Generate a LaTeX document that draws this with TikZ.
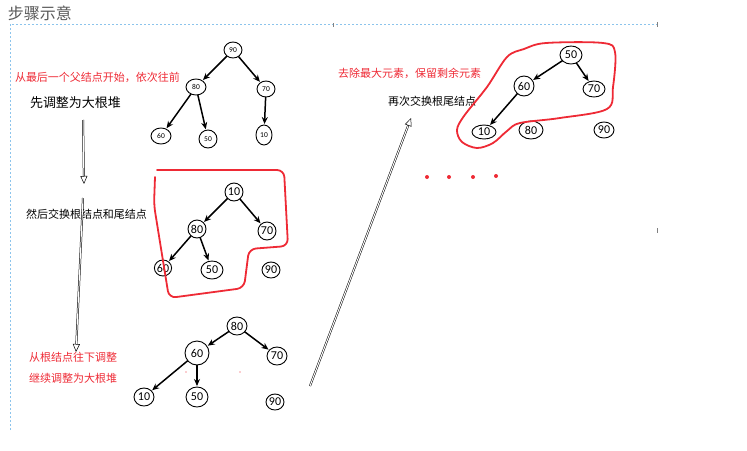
\documentclass[tikz,border=0pt]{standalone}
\usepackage{fontspec}
\setmainfont{Carlito}
\newfontfamily\cjk{Noto Sans CJK SC}
\usetikzlibrary{shapes.geometric,arrows.meta}
\definecolor{markred}{HTML}{EE2A35}
\definecolor{guideblue}{HTML}{8CC4EC}
\definecolor{titlegray}{HTML}{595959}
\begin{document}
\begin{tikzpicture}[y=1pt, x=1pt, yscale=-1, inner sep=0pt, outer sep=0pt,
  key/.style={ellipse, draw=black, line width=0.9pt, minimum width=20pt, minimum height=18pt, font=\fontsize{12}{12}\selectfont},
  smallkey/.style={key, minimum width=18pt, minimum height=16pt, font=\fontsize{7.5}{7.5}\selectfont},
  edge/.style={draw=black, line width=1.5pt, -{Stealth[length=7pt,width=6pt]}, shorten >=1pt},
  note/.style={anchor=west, font=\cjk\fontsize{11}{11}\selectfont},
  hint/.style={note, text=markred},
  outline/.style={draw=markred, line width=1.8pt, line join=round, line cap=round},
  flow/.style={draw=black, double, double distance=1pt, line width=0.5pt, -{Triangle[open, length=8pt, width=7pt]}},
  guide/.style={draw=guideblue, line width=0.6pt, dash pattern=on 2pt off 2pt}]
\useasboundingbox (0,0) rectangle (747,450);
% frame
\draw[guide] (10,430) -- (10,24) -- (657,24);
\draw[gray, line width=0.6pt] (657,22) -- (657,27) (657,228) -- (657,233) (333,23) -- (333,27);
\node[anchor=west, text=titlegray, font=\cjk\fontsize{16}{16}\selectfont] (title) at (8,13) {步骤示意};
% texts
\node[hint] (t1) at (15,77) {从最后一个父结点开始，依次往前};
\node[note, font=\cjk\fontsize{13}{13}\selectfont] (t2) at (30,103) {先调整为大根堆};
\node[note] (t3) at (26,214) {然后交换根结点和尾结点};
\node[hint] (t4) at (29,357) {从根结点往下调整};
\node[hint] (t5) at (29,378) {继续调整为大根堆};
\node[hint] (t6) at (338,73) {去除最大元素，保留剩余元素};
\node[note] (t7) at (388,101) {再次交换根尾结点};
% step 1
\node[smallkey] (a90) at (233,50) {90};
\node[smallkey, minimum width=20pt] (a80) at (196,87) {80};
\node[smallkey] (a70) at (266,89) {70};
\node[smallkey, minimum width=20pt] (a60) at (161,136) {60};
\node[smallkey, minimum height=18pt] (a50) at (208,139) {50};
\node[smallkey, minimum width=16pt, minimum height=20pt] (a10) at (264,135) {10};
\draw[edge] (a90) -- (a80);
\draw[edge] (a90) -- (a70);
\draw[edge] (a80) -- (a60);
\draw[edge] (a80) -- (a50);
\draw[edge] (a70) -- (a10);
% step 2
\node[key, minimum width=18pt] (b10) at (234,192) {10};
\node[key, minimum width=18pt] (b80) at (197,229) {80};
\node[key, minimum width=18pt] (b70) at (267,231) {70};
\node[key, minimum width=16pt, minimum height=16pt] (b60) at (163,268) {60};
\node[key, minimum width=22pt] (b50) at (212,270) {50};
\node[key, minimum width=18pt, minimum height=16pt] (b90) at (271,270) {90};
\draw[edge] (b10) -- (b80);
\draw[edge] (b10) -- (b70);
\draw[edge] (b80) -- (b60);
\draw[edge] (b80) -- (b50);
\draw[outline, rounded corners=7pt] (157,170) -- (284,170) -- (288,246) -- (249,249) -- (244,288) -- (169,298) -- (154,205) -- (155,177);
% step 3
\node[key] (c80) at (237,326) {80};
\node[key, minimum width=24pt, minimum height=24pt] (c60) at (197,353) {60};
\node[key] (c70) at (277,356) {70};
\node[key] (c10) at (144,397) {10};
\node[key, minimum width=22pt, minimum height=20pt] (c50) at (197,397) {50};
\node[key, minimum width=18pt, minimum height=16pt] (c90) at (275,402) {90};
\draw[edge] (c80) -- (c60);
\draw[edge] (c80) -- (c70);
\draw[edge] (c60) -- (c10);
\draw[edge] (c60) -- (c50);
\fill[markred] (186,372) circle (0.6) (240,372) circle (0.6);
% step 4
\node[key, minimum width=22pt] (d50) at (571,55) {50};
\node[key, minimum height=20pt] (d60) at (524,86) {60};
\node[key, minimum width=22pt, minimum height=16pt] (d70) at (594,89) {70};
\node[key, minimum width=24pt, minimum height=14pt] (d10) at (484,132) {10};
\node[key, minimum width=24pt] (d80) at (531,130) {80};
\node[key, minimum height=16pt] (d90) at (604,130) {90};
\draw[edge] (d50) -- (d60);
\draw[edge] (d50) -- (d70);
\draw[edge] (d60) -- (d10);
\draw[outline] plot[smooth cycle, tension=0.55] coordinates {(546,43) (603,43) (615,52) (613,87) (607,109) (560,118) (520,123) (507,131) (493,143) (477,148) (462,142) (457,130) (464,116) (487,87) (507,57) (524,49)};
\fill[markred] (427,177) circle (2) (449,177) circle (2) (473,177) circle (2) (496,176) circle (2);
% flow arrows
\coordinate (f1s) at (83,120);
\coordinate (f1e) at (84,184);
\coordinate (f2s) at (83,198);
\coordinate (f2e) at (76,352);
\coordinate (f3s) at (310,386);
\coordinate (f3e) at (411,118);
\draw[flow] (f1s) -- (f1e);
\draw[flow] (f2s) -- (f2e);
\draw[flow] (f3s) -- (f3e);
\end{tikzpicture}
\end{document}
